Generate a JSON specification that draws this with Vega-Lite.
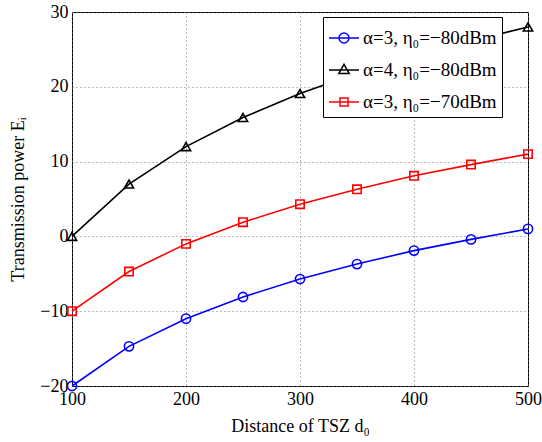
{
  "$schema": "https://vega.github.io/schema/vega-lite/v6.json",
  "width": 456,
  "height": 374,
  "autosize": {"type": "none"},
  "padding": {"left": 72, "top": 12, "right": 14, "bottom": 56},
  "background": "white",
  "config": {
    "font": "Liberation Serif",
    "view": {"stroke": "black", "strokeWidth": 1},
    "axis": {
      "labelFont": "Liberation Serif",
      "titleFont": "Liberation Serif",
      "labelFontSize": 18,
      "titleFontSize": 18,
      "labelColor": "black",
      "titleColor": "black",
      "titleFontWeight": "normal",
      "domain": false,
      "ticks": false,
      "grid": true,
      "gridColor": "#777777",
      "gridDash": [1, 3],
      "gridWidth": 1
    },
    "legend": {
      "labelFont": "Liberation Serif",
      "labelFontSize": 19,
      "labelColor": "black"
    }
  },
  "data": {
    "values": [
      {"d": 100, "E": -20.0, "s": "α=3, η₀=−80dBm"},
      {"d": 150, "E": -14.7, "s": "α=3, η₀=−80dBm"},
      {"d": 200, "E": -11.0, "s": "α=3, η₀=−80dBm"},
      {"d": 250, "E": -8.1, "s": "α=3, η₀=−80dBm"},
      {"d": 300, "E": -5.7, "s": "α=3, η₀=−80dBm"},
      {"d": 350, "E": -3.7, "s": "α=3, η₀=−80dBm"},
      {"d": 400, "E": -1.9, "s": "α=3, η₀=−80dBm"},
      {"d": 450, "E": -0.4, "s": "α=3, η₀=−80dBm"},
      {"d": 500, "E": 1.0, "s": "α=3, η₀=−80dBm"},
      {"d": 100, "E": 0.0, "s": "α=4, η₀=−80dBm"},
      {"d": 150, "E": 7.0, "s": "α=4, η₀=−80dBm"},
      {"d": 200, "E": 12.0, "s": "α=4, η₀=−80dBm"},
      {"d": 250, "E": 15.9, "s": "α=4, η₀=−80dBm"},
      {"d": 300, "E": 19.1, "s": "α=4, η₀=−80dBm"},
      {"d": 350, "E": 21.8, "s": "α=4, η₀=−80dBm"},
      {"d": 400, "E": 24.1, "s": "α=4, η₀=−80dBm"},
      {"d": 450, "E": 26.1, "s": "α=4, η₀=−80dBm"},
      {"d": 500, "E": 28.0, "s": "α=4, η₀=−80dBm"},
      {"d": 100, "E": -10.0, "s": "α=3, η₀=−70dBm"},
      {"d": 150, "E": -4.7, "s": "α=3, η₀=−70dBm"},
      {"d": 200, "E": -1.0, "s": "α=3, η₀=−70dBm"},
      {"d": 250, "E": 1.9, "s": "α=3, η₀=−70dBm"},
      {"d": 300, "E": 4.3, "s": "α=3, η₀=−70dBm"},
      {"d": 350, "E": 6.3, "s": "α=3, η₀=−70dBm"},
      {"d": 400, "E": 8.1, "s": "α=3, η₀=−70dBm"},
      {"d": 450, "E": 9.6, "s": "α=3, η₀=−70dBm"},
      {"d": 500, "E": 11.0, "s": "α=3, η₀=−70dBm"}
    ]
  },
  "encoding": {
    "x": {
      "field": "d",
      "type": "quantitative",
      "scale": {"domain": [100, 500], "nice": false},
      "axis": {"values": [100, 200, 300, 400, 500], "title": "Distance of TSZ d₀", "labelPadding": 4, "titlePadding": 9, "labelFlush": false}
    },
    "y": {
      "field": "E",
      "type": "quantitative",
      "scale": {"domain": [-20, 30], "nice": false, "zero": false},
      "axis": {"values": [-20, -10, 0, 10, 20, 30], "title": "Transmission power Eᵢ", "labelPadding": 4, "titlePadding": 12, "labelFlush": false}
    },
    "color": {
      "field": "s",
      "type": "nominal",
      "scale": {
        "domain": ["α=3, η₀=−80dBm", "α=4, η₀=−80dBm", "α=3, η₀=−70dBm"],
        "range": ["#0000FF", "#000000", "#FF0000"]
      },
      "legend": {
        "title": null,
        "orient": "none",
        "legendX": 251,
        "legendY": 5,
        "padding": 5,
        "strokeColor": "black",
        "fillColor": "white",
        "cornerRadius": 0,
        "symbolSize": 900,
        "symbolStrokeWidth": 1.5,
        "rowPadding": 6,
        "labelOffset": 3,
        "labelLimit": 300,
        "encode": {
          "symbols": {
            "update": {
              "shape": {"signal": "datum.index === 0 ? 'M-1,0L1,0M0.33,0A0.33,0.33,0,1,1,-0.33,0A0.33,0.33,0,1,1,0.33,0' : datum.index === 1 ? 'M-1,0L1,0M0,-0.38L0.35,0.24L-0.35,0.24Z' : 'M-1,0L1,0M-0.27,-0.27L0.27,-0.27L0.27,0.27L-0.27,0.27Z'"},
              "fill": {"value": "transparent"}
            }
          }
        }
      }
    }
  },
  "layer": [
    {
      "mark": {"type": "line", "strokeWidth": 1.6}
    },
    {
      "transform": [{"filter": "datum.s === 'α=3, η₀=−80dBm'"}],
      "mark": {"type": "point", "shape": "circle", "filled": false, "strokeWidth": 1.6, "size": 85, "opacity": 1}
    },
    {
      "transform": [{"filter": "datum.s === 'α=4, η₀=−80dBm'"}],
      "mark": {"type": "point", "shape": "triangle-up", "filled": false, "strokeWidth": 1.6, "size": 85, "opacity": 1}
    },
    {
      "transform": [{"filter": "datum.s === 'α=3, η₀=−70dBm'"}],
      "mark": {"type": "point", "shape": "square", "filled": false, "strokeWidth": 1.6, "size": 70, "opacity": 1}
    }
  ]
}
